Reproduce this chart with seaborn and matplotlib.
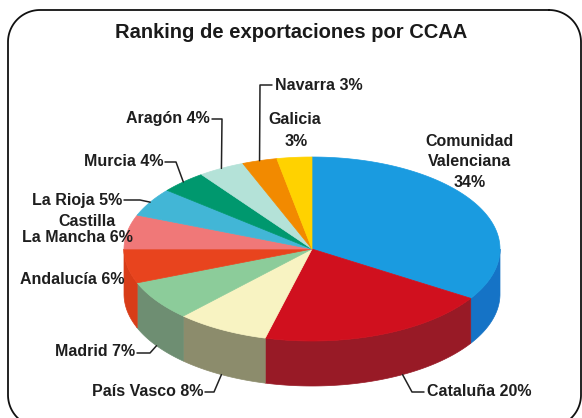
import numpy as np
import pandas as pd
import matplotlib
matplotlib.use("Agg")
import matplotlib.pyplot as plt
from matplotlib.patches import Polygon
import seaborn as sns

# Export share by autonomous community (clockwise from 12 o'clock)
regions = ["Comunidad Valenciana", "Cataluña", "País Vasco", "Madrid", "Andalucía",
           "Castilla La Mancha", "La Rioja", "Murcia", "Aragón", "Navarra", "Galicia"]
shares = [34, 20, 8, 7, 6, 6, 5, 4, 4, 3, 3]
labels = ["Comunidad\nValenciana\n34%", "Cataluña 20%", "País Vasco 8%", "Madrid 7%",
          "Andalucía 6%", "Castilla\nLa Mancha 6%", "La Rioja 5%", "Murcia 4%",
          "Aragón 4%", "Navarra 3%", "Galicia\n3%"]
top_colors = ["#1a9be0", "#d0101e", "#f8f3c2", "#8ccc9a", "#e8441e", "#f07878",
              "#42b6d6", "#00986e", "#b4e2d8", "#f28a00", "#ffd200"]
side_colors = ["#1573c6", "#981a26", "#8c8c6c", "#6e8e72", "#d83c18", "#c05858",
               "#2f8aa8", "#007050", "#88b0a8", "#c06c00", "#d0aa00"]

df = pd.DataFrame({"region": regions, "share": shares, "label": labels})
sns.set_theme(style="white")
plt.rcParams["font.family"] = ["Liberation Sans", "DejaVu Sans"]

fig = plt.figure(figsize=(5.82, 4.18), dpi=100)
ax = fig.add_axes([0, 0, 1, 1])
ax.set_xlim(0, 582)
ax.set_ylim(418, 0)
ax.axis("off")


def rounded_frame(x0, y0, x1, y1, r, n=30):
    """Outline of a rounded rectangle in y-down coordinates."""
    pts = []
    corners = [(x1 - r, y0 + r, -90, 0), (x1 - r, y1 - r, 0, 90),
               (x0 + r, y1 - r, 90, 180), (x0 + r, y0 + r, 180, 270)]
    for ccx, ccy, a0, a1 in corners:
        t = np.radians(np.linspace(a0, a1, n))
        pts += list(zip(ccx + r * np.cos(t), ccy + r * np.sin(t)))
    pts.append(pts[0])
    return np.array(pts)


fr = rounded_frame(8, 10, 581, 427, 32)
ax.plot(fr[:, 0], fr[:, 1], color="#111111", lw=1.3, clip_on=False)

ax.text(291, 33, "Ranking de exportaciones por CCAA", ha="center", va="center",
        fontsize=14.5, fontweight="bold", color="#1a1a1a")

# Pie geometry (pixel space, y down)
cx, cy, rx, ry, depth = 312, 249, 188, 92, 45


def rim(theta_deg, drop=0.0):
    t = np.radians(theta_deg)
    return cx + rx * np.sin(t), cy - ry * np.cos(t) + drop


fracs = df["share"].to_numpy() / df["share"].sum()
edges = np.concatenate([[0], np.cumsum(fracs) * 360])
palette_top = sns.color_palette(top_colors)
palette_side = sns.color_palette(side_colors)

# Visible outer walls (front half: 90..270 deg)
for i in range(len(df)):
    a0, a1 = max(edges[i], 90), min(edges[i + 1], 270)
    if a1 <= a0:
        continue
    th = np.linspace(a0, a1, 80)
    upper = [rim(t) for t in th]
    lower = [rim(t, depth) for t in th[::-1]]
    ax.add_patch(Polygon(upper + lower, closed=True, fc=palette_side[i],
                         ec=palette_side[i], lw=0.5))

# Top faces
for i in range(len(df)):
    th = np.linspace(edges[i], edges[i + 1], 120)
    pts = [(cx, cy)] + [rim(t) for t in th]
    ax.add_patch(Polygon(pts, closed=True, fc=palette_top[i], ec=palette_top[i], lw=0.5))

# Label placement: text position, alignment, elbow points, anchor fraction within wedge
lab_style = dict(fontsize=11.5, fontweight="bold", color="#1e1e1e", va="center",
                 linespacing=1.05)
layout = {
    "Comunidad Valenciana": dict(xy=(470, 162), ha="center", ls=1.45),
    "Cataluña": dict(xy=(427, 392), ha="left", line=[(424, 392), (412, 392)], frac=0.4, low=True),
    "País Vasco": dict(xy=(203, 392), ha="right", line=[(205, 392), (214, 392)], frac=0.5, low=True),
    "Madrid": dict(xy=(135, 352), ha="right", line=[(137, 353), (150, 353)], frac=0.5, low=True),
    "Andalucía": dict(xy=(125, 280), ha="right"),
    "Castilla La Mancha": dict(xy=(133, 230), ha="right", ls=1.05),
    "La Rioja": dict(xy=(122, 200), ha="right", line=[(124, 200), (140, 200)], frac=0.5),
    "Murcia": dict(xy=(163, 162), ha="right", line=[(165, 162), (176, 162)], frac=0.5),
    "Aragón": dict(xy=(210, 119), ha="right", line=[(212, 119), (222, 119)], frac=0.5),
    "Navarra": dict(xy=(275, 85), ha="left", line=[(272, 85), (260, 85)], frac=0.5),
    "Galicia": dict(xy=(268, 130), ha="left", ls=1.45),
}

for i, row in df.iterrows():
    spec = layout[row["region"]]
    x, y = spec["xy"]
    text = row["label"]
    if row["region"] == "Castilla La Mancha":
        ax.text(x - 75, y - 8, "Castilla", ha="left", **lab_style)
        ax.text(x, y + 8, "La Mancha 6%", ha="right", **lab_style)
    elif row["region"] == "Galicia":
        ax.text(x, y - 11, "Galicia", ha="left", **lab_style)
        ax.text(x + 17, y + 11, "3%", ha="left", **lab_style)
    else:
        style = dict(lab_style)
        style["linespacing"] = spec.get("ls", 1.05)
        ax.text(x, y, text, ha=spec["ha"], **style)
    if "line" in spec:
        theta = edges[i] + spec["frac"] * (edges[i + 1] - edges[i])
        end = rim(theta, depth if spec.get("low") else 0)
        pts = spec["line"] + [end]
        ax.plot([p[0] for p in pts], [p[1] for p in pts], color="#222222", lw=1.1,
                solid_joinstyle="round")

fig.savefig("out.png", dpi=100, facecolor="white")
